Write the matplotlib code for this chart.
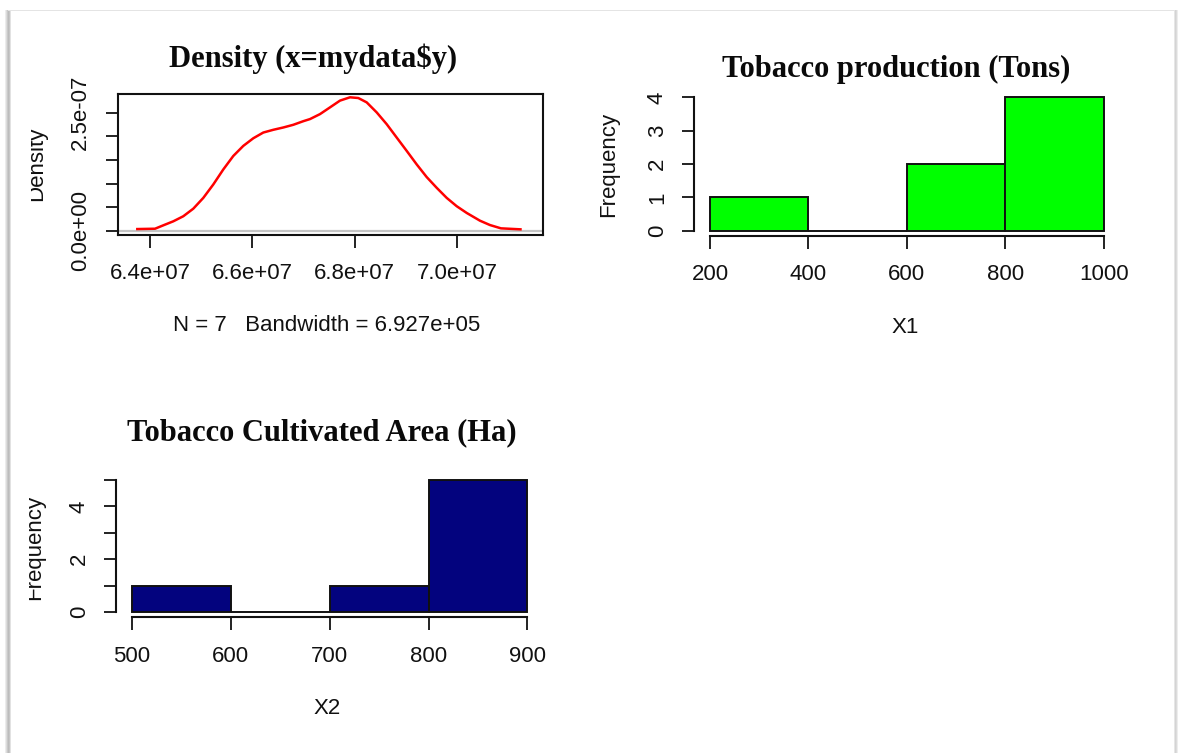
import numpy as np
import matplotlib
matplotlib.use("Agg")
import matplotlib.pyplot as plt
from matplotlib.patches import Rectangle

plt.rcParams["font.family"] = ["Liberation Sans", "DejaVu Sans"]

# kernel density of mydata$y
dens_x = [6.3752e7, 6.4098e7, 6.4260e7, 6.4455e7, 6.4650e7, 6.4846e7, 6.5041e7,
          6.5236e7, 6.5432e7, 6.5627e7, 6.5822e7, 6.6018e7, 6.6213e7, 6.6408e7,
          6.6604e7, 6.6799e7, 6.6994e7, 6.7125e7, 6.7320e7, 6.7516e7, 6.7711e7,
          6.7906e7, 6.8068e7, 6.8232e7, 6.8428e7, 6.8623e7, 6.8818e7, 6.9014e7,
          6.9209e7, 6.9404e7, 6.9600e7, 6.9795e7, 6.9990e7, 7.0186e7, 7.0445e7,
          7.0640e7, 7.0855e7, 7.1236e7]
dens_y = [0.036e-7, 0.043e-7, 0.115e-7, 0.200e-7, 0.307e-7, 0.468e-7, 0.696e-7,
          0.980e-7, 1.299e-7, 1.584e-7, 1.797e-7, 1.959e-7, 2.080e-7, 2.138e-7,
          2.187e-7, 2.244e-7, 2.320e-7, 2.365e-7, 2.470e-7, 2.613e-7, 2.756e-7,
          2.826e-7, 2.811e-7, 2.719e-7, 2.506e-7, 2.257e-7, 1.974e-7, 1.691e-7,
          1.405e-7, 1.137e-7, 0.909e-7, 0.696e-7, 0.520e-7, 0.377e-7, 0.213e-7,
          0.121e-7, 0.051e-7, 0.030e-7]
dens_xticks = [6.4e7, 6.6e7, 6.8e7, 7.0e7]
dens_xticklabels = ["6.4e+07", "6.6e+07", "6.8e+07", "7.0e+07"]
dens_yticks = [0, 0.5e-7, 1.0e-7, 1.5e-7, 2.0e-7, 2.5e-7]
dens_yticklabels = ["0.0e+00", "", "", "", "", "2.5e-07"]

# histogram of X1 (tobacco production, tons)
x1_edges = [200, 400, 600, 800, 1000]
x1_counts = [1, 0, 2, 4]
x1_yticks = [0, 1, 2, 3, 4]

# histogram of X2 (cultivated area, ha)
x2_edges = [500, 600, 700, 800, 900]
x2_counts = [1, 0, 1, 5]
x2_yticks = [0, 1, 2, 3, 4, 5]
x2_yticklabels = ["0", "", "2", "", "4", ""]

W, H = 1178, 753
INK = "#111111"
fig = plt.figure(figsize=(W / 100, H / 100), dpi=100)


def fx(px):
    return px / W


def fy(py):
    return 1 - py / H


def panel(l, t, r, b):
    return fig.add_axes([fx(l), fy(b), (r - l) / W, (b - t) / H])


def style(ax, box=False):
    ax.tick_params(direction="out", length=9, width=1.3, colors=INK,
                   labelsize=16, pad=11.5)
    ax.tick_params(axis="y", labelrotation=90, pad=10)
    for lab in ax.get_yticklabels():
        lab.set_va("center")
    for s in ax.spines.values():
        s.set_linewidth(1.5)
        s.set_color(INK)
    if not box:
        ax.spines["top"].set_visible(False)
        ax.spines["right"].set_visible(False)


def title(x, y, s):
    fig.text(fx(x), fy(y), s, ha="center", va="center", fontsize=22,
             fontweight="bold", family="Liberation Serif", color="#0a0a0a")


def label(x, y, s, rot=0, clip_x=None):
    if rot:
        t = fig.text(fx(x), fy(y), s, ha="center", va="baseline", rotation=90,
                     rotation_mode="anchor", fontsize=16, color=INK)
        if clip_x is not None:
            # the original page cut the left margin off
            t.set_clip_path(Rectangle((fx(clip_x), 0), 1, 1,
                                      transform=fig.transFigure))
    else:
        t = fig.text(fx(x), fy(y), s, ha="center", va="center",
                     fontsize=16, color=INK)
    return t


# density panel
ax = panel(117.5, 94, 543, 235)
ax.axhline(0, color="#c4c4c4", lw=1.6, zorder=1)
ax.plot(dens_x, dens_y, color="red", lw=1.8, zorder=2)
ax.set_xlim(6.3365e7, 7.1676e7)
ax.set_ylim(-0.09e-7, 2.896e-7)
ax.set_xticks(dens_xticks, dens_xticklabels)
ax.set_yticks(dens_yticks, dens_yticklabels)
style(ax, box=True)
title(313, 59, "Density (x=mydata$y)")
label(327, 325, "N = 7   Bandwidth = 6.927e+05")
label(42, 164, "Density", rot=90, clip_x=30.5)

# X1 histogram
ax = panel(694.3, 92, 1119.4, 236)
ax.bar(x1_edges[:-1], x1_counts, width=np.diff(x1_edges), align="edge",
       color="#00ff00", edgecolor="#111", lw=1.4)
ax.set_xlim(168, 1032)
ax.set_ylim(-0.16, 4.16)
ax.set_xticks(x1_edges)
ax.set_yticks(x1_yticks)
ax.spines["bottom"].set_bounds(x1_edges[0], x1_edges[-1])
ax.spines["left"].set_bounds(x1_yticks[0], x1_yticks[-1])
style(ax)
title(896.5, 69, "Tobacco production (Tons)")
label(905, 327, "X1")
label(614, 164, "Frequency", rot=90)

# X2 histogram
ax = panel(116.2, 474.7, 543.2, 617.3)
ax.bar(x2_edges[:-1], x2_counts, width=np.diff(x2_edges), align="edge",
       color="#03037e", edgecolor="#111", lw=1.4)
ax.set_xlim(484, 916)
ax.set_ylim(-0.2, 5.2)
ax.set_xticks(x2_edges)
ax.set_yticks(x2_yticks, x2_yticklabels)
ax.spines["bottom"].set_bounds(x2_edges[0], x2_edges[-1])
ax.spines["left"].set_bounds(x2_yticks[0], x2_yticks[-1])
style(ax)
title(321.5, 433, "Tobacco Cultivated Area (Ha)")
label(327, 708, "X2")
label(40.5, 547, "Frequency", rot=90, clip_x=28.5)

# picture frame with soft shadow
for px, c in [(5, "#ececec"), (6, "#dcdcdc"), (7, "#c9c9c9"), (8, "#bcbcbc"),
              (9, "#c6c6c6"), (10, "#e2e2e2")]:
    fig.add_artist(Rectangle((fx(px), 0), 1 / W, fy(10), color=c, lw=0,
                             transform=fig.transFigure))
for px, c in [(1174, "#e6e6e6"), (1175, "#d4d4d4"), (1176, "#dcdcdc"),
              (1177, "#ededed")]:
    fig.add_artist(Rectangle((fx(px), 0), 1 / W, fy(10), color=c, lw=0,
                             transform=fig.transFigure))
fig.add_artist(Rectangle((fx(8), fy(11)), 1166 / W, 1.5 / H, color="#e4e4e4",
                         lw=0, transform=fig.transFigure))

fig.savefig("out.png", dpi=100)
